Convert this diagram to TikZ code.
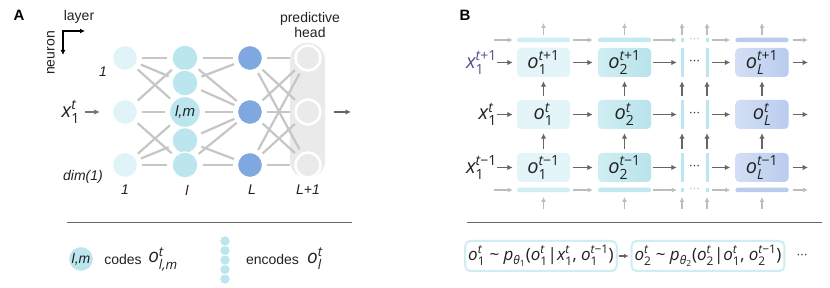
\documentclass[tikz,border=0pt]{standalone}
\usepackage{fontspec}
\setmainfont{Liberation Sans}
\newfontfamily\osf{Open Sans}
\newfontfamily\dvs{DejaVu Sans}
\usepackage{amsmath}
\usetikzlibrary{arrows.meta}
\pgfdeclarelayer{bgA}\pgfdeclarelayer{bgB}
\pgfsetlayers{bgA,bgB,main}
\newcommand\mi[1]{\text{\itshape #1}}
\newcommand\mr[1]{\text{#1}}
\definecolor{cA}{HTML}{DFF3F8}
\definecolor{cB}{HTML}{BCE6EE}
\definecolor{cC}{HTML}{7FA7E0}
\definecolor{cHead}{HTML}{EAEAEA}
\definecolor{cLine}{HTML}{C6C6C6}
\definecolor{cDark}{HTML}{666666}
\definecolor{cLight}{HTML}{BDBDBD}
\definecolor{cPur}{HTML}{5E4B8B}
\definecolor{cTxt}{HTML}{222222}
\definecolor{bxA}{HTML}{E4F5F9}
\definecolor{bxBl}{HTML}{CFEEF3}
\definecolor{bxBr}{HTML}{B9E3EB}
\definecolor{bxLl}{HTML}{D3DFF5}
\definecolor{bxLr}{HTML}{B9CCEF}
\definecolor{stA}{HTML}{CFEFF5}
\definecolor{stB}{HTML}{C2E8F0}
\definecolor{stL}{HTML}{BACCEE}
\definecolor{cBar}{HTML}{BDE7F0}
\definecolor{cFrame}{HTML}{CFEEF4}
\tikzset{
  neu/.style={circle, inner sep=0pt, draw=white, line width=1.2pt},
  conn/.style={draw=cLine, line width=2.2pt, shorten >=4pt, shorten <=4pt},
  darr/.style={draw=cDark, line width=1.6pt, -{Latex[length=5.5pt,width=5.5pt]}},
  larr/.style={draw=cLight, line width=1.4pt, -{Latex[length=5pt,width=5pt]}},
  cell/.style={rounded corners=4pt, minimum width=53pt, minimum height=29pt, inner sep=0pt, font=\osf\fontsize{20}{22}\selectfont, text=cTxt},
  strip/.style={rounded corners=2pt, minimum width=53pt, minimum height=4.5pt, inner sep=0pt},
  vbar/.style={minimum width=3pt, minimum height=29pt, inner sep=0pt, fill=cBar},
  sq/.style={minimum width=3pt, minimum height=4.5pt, inner sep=0pt, fill=cBar},
  wordA/.style={font=\fontsize{14}{16}\selectfont, text=cTxt, inner sep=0pt},
  itA/.style={font=\itshape\fontsize{14}{16}\selectfont, text=cTxt, inner sep=0pt},
  varB/.style={font=\osf\fontsize{20}{22}\selectfont, text=cTxt, inner sep=0pt},
  frm/.style={draw=cFrame, line width=2pt, rounded corners=5pt, minimum height=30pt, inner xsep=3pt, font=\osf\fontsize{17}{19}\selectfont, text=cTxt},
  dotsdark/.style={font=\dvs\fontsize{11}{12}\selectfont, text=cTxt, inner sep=0pt},
  dotslight/.style={font=\dvs\fontsize{11}{12}\selectfont, text=cLight, inner sep=0pt}
}
\begin{document}
\begin{tikzpicture}[x=1pt, y=-1pt]
\useasboundingbox (0,0) rectangle (830,288);
\begin{pgfonlayer}{bgA}
\fill[white] (0,0) rectangle (830,288);
\end{pgfonlayer}

% ================= Panel A =================
\node[font=\bfseries\fontsize{15}{15}\selectfont, text=black] (lblA) at (19,15) {A};
\node[wordA] (layer) at (79,17) {layer};
\node[wordA, rotate=90] (neuron) at (51,53) {neuron};
\coordinate (ax0) at (63,31);
\coordinate (axr) at (85,31);
\coordinate (axd) at (63,55);
\draw[line width=1.3pt, {Latex[length=5pt,width=5pt]}-{Latex[length=5pt,width=5pt]}] (axd) -- (ax0) -- (axr);

% head background
\begin{pgfonlayer}{bgA}
\node[fill=cHead, rounded corners=17pt, minimum width=35pt, minimum height=135pt, inner sep=0pt] (head) at (307.5,110.5) {};
\end{pgfonlayer}
\node[wordA, align=center] (pred) at (310,25) {predictive\\[-1pt]head};

% neurons
\node[neu, fill=cA, minimum size=25pt] (a1) at (125,58) {};
\node[neu, fill=cA, minimum size=25pt] (a2) at (125,112) {};
\node[neu, fill=cA, minimum size=25pt] (a3) at (125,165) {};

\node[neu, fill=cB, minimum size=26pt] (b1) at (185,58) {};
\node[neu, fill=cB, minimum size=26pt] (b2) at (185,83) {};
\node[neu, fill=cB, minimum size=31pt, font=\itshape\fontsize{15}{15}\selectfont, text=cTxt] (b3) at (185,112) {l,m};
\node[neu, fill=cB, minimum size=26pt] (b4) at (185,140.5) {};
\node[neu, fill=cB, minimum size=26pt] (b5) at (185,165) {};

\node[neu, fill=cC, minimum size=25pt] (c1) at (250,58) {};
\node[neu, fill=cC, minimum size=25pt] (c2) at (250,112) {};
\node[neu, fill=cC, minimum size=25pt] (c3) at (250,165) {};

\node[circle, inner sep=0pt, fill=cHead, draw=white, line width=2.5pt, minimum size=25pt] (d1) at (308,58) {};
\node[circle, inner sep=0pt, fill=cHead, draw=white, line width=2.5pt, minimum size=25pt] (d2) at (308,112) {};
\node[circle, inner sep=0pt, fill=cHead, draw=white, line width=2.5pt, minimum size=25pt] (d3) at (308,165) {};

% connections
\begin{pgfonlayer}{bgB}
\foreach \s/\t in {a1/b1,a1/b2,a1/b3,a2/b1,a2/b3,a2/b5,a3/b3,a3/b4,a3/b5,
                   b1/c1,b1/c2,b2/c1,b2/c2,b3/c2,b4/c2,b4/c3,b5/c2,b5/c3,
                   c1/d1,c1/d2,c1/d3,c2/d1,c2/d2,c2/d3,c3/d1,c3/d2,c3/d3}
  \draw[conn] (\s) -- (\t);
\end{pgfonlayer}

% labels
\node[itA] (l1a) at (103,72) {1};
\node[itA] (ldim) at (83,177) {dim(1)};
\node[itA] (lb1) at (125,190) {1};
\node[itA] (lbl) at (187,190) {l};
\node[itA] (lbL) at (252,190) {L};
\node[itA] (lbL1) at (308,190) {L+1};

\node[varB, anchor=east] (xA) at (80,112) {$\mi{x}^{\mi{t}}_{\mr{1}}$};
\draw[darr, draw=cDark!90, line width=1.3pt, shorten <=5pt, shorten >=12pt] (xA) -- (a2);
\coordinate (outA) at (351,112);
\draw[darr, line width=1.3pt, shorten <=12pt] (d2) -- (outA);

% legend A
\coordinate (sepA0) at (67,223);
\coordinate (sepA1) at (352,223);
\draw[cDark, line width=1pt] (sepA0) -- (sepA1);
\node[neu, fill=cB, minimum size=25pt, font=\itshape\fontsize{14}{14}\selectfont, text=cTxt] (lg1) at (81,259) {l,m};
\node[wordA] (lgcodes) at (123,259) {codes};
\node[varB, font=\osf\fontsize{19}{21}\selectfont] (lgo1) at (163,259) {$\mi{o}^{\mi{t}}_{\mi{l,m}}$};
\foreach \yy/\nm in {279/s5,269.5/s4,260/s3,250.5/s2,241/s1}
  \node[neu, fill=cB, minimum size=10.5pt, line width=0.8pt] (\nm) at (225,\yy) {};
\node[wordA] (lgenc) at (272.5,259) {encodes};
\node[varB, font=\osf\fontsize{19}{21}\selectfont] (lgo2) at (315,259) {$\mi{o}^{\mi{t}}_{\mi{l}}$};

% ================= Panel B =================
\node[font=\bfseries\fontsize{15}{15}\selectfont, text=black] (lblB) at (465,15) {B};

% row labels
\node[varB, anchor=east, text=cPur] (x1) at (497,62.5) {$\mi{x}^{\mi{t}\mr{+1}}_{\mr{1}}$};
\node[varB, anchor=east] (x2) at (497,114.5) {$\mi{x}^{\mi{t}}_{\mr{1}}$};
\node[varB, anchor=east] (x3) at (497,167.5) {$\mi{x}^{\mi{t}\mr{−1}}_{\mr{1}}$};

% cells
\foreach \r/\yy/\sup in {1/62.5/{\mi{t}\mr{+1}}, 2/114.5/{\mi{t}}, 3/167.5/{\mi{t}\mr{−1}}}{
  \node[cell, fill=bxA] (p1r\r) at (543.5,\yy) {$\mi{o}^{\sup}_{\mr{1}}$};
  \node[cell, left color=bxBl, right color=bxBr] (p2r\r) at (624.5,\yy) {$\mi{o}^{\sup}_{\mr{2}}$};
  \node[vbar] (q1r\r) at (682,\yy) {};
  \node[vbar] (q2r\r) at (707,\yy) {};
  \node[dotsdark] (dd\r) at (694.5,\yy) {⋯};
  \node[cell, left color=bxLl, right color=bxLr] (pLr\r) at (762,\yy) {$\mi{o}^{\sup}_{\mi{L}}$};
  \coordinate (out\r) at (808,\yy);
}
\foreach \r in {1,2,3}{
  \draw[darr, shorten >=4pt] (x\r.east) -- (p1r\r.west);
  \draw[darr, shorten <=3pt, shorten >=5pt] (p1r\r) -- (p2r\r);
  \draw[darr, shorten <=2pt, shorten >=3.5pt] (p2r\r) -- (q1r\r);
  \draw[darr, shorten <=3.5pt, shorten >=5pt] (q2r\r) -- (pLr\r);
  \draw[darr, shorten <=4pt] (pLr\r) -- (out\r);
}
\foreach \c in {p1,p2,q1,q2,pL}{
  \draw[darr, shorten <=4pt, shorten >=4pt] (\c r3) -- (\c r2);
  \draw[darr, shorten <=4pt, shorten >=4pt] (\c r2) -- (\c r1);
}

% strips
\foreach \s/\yy/\ua/\ub in {t/40/35/23, b/190/209/197}{
  \node[strip, fill=stA] (s1\s) at (543.5,\yy) {};
  \node[strip, fill=stB] (s2\s) at (624.5,\yy) {};
  \node[sq] (k1\s) at (682,\yy) {};
  \node[sq] (k2\s) at (707,\yy) {};
  \node[dotslight] (dl\s) at (694.5,\yy) {⋯};
  \node[strip, fill=stL] (sL\s) at (762,\yy) {};
  \coordinate (in\s) at (494,\yy);
  \coordinate (ot\s) at (808,\yy);
  \draw[larr, shorten >=4pt] (in\s) -- (s1\s);
  \draw[larr, shorten <=3pt, shorten >=5pt] (s1\s) -- (s2\s);
  \draw[larr, shorten <=2pt, shorten >=3.5pt] (s2\s) -- (k1\s);
  \draw[larr, shorten <=3.5pt, shorten >=5pt] (k2\s) -- (sL\s);
  \draw[larr, shorten <=4pt] (sL\s) -- (ot\s);
  \foreach \xx/\nm in {543.5/v1, 624.5/v2, 682/v3, 707/v4, 762/v5}{
    \coordinate (\nm a\s) at (\xx,\ua);
    \coordinate (\nm b\s) at (\xx,\ub);
    \draw[larr] (\nm a\s) -- (\nm b\s);
  }
}

% separator and formulas
\coordinate (sepB0) at (467,223);
\coordinate (sepB1) at (822,223);
\draw[cDark, line width=1pt] (sepB0) -- (sepB1);
\node[frm] (f1) at (541,256) {$\mi{o}^{\mi{t}}_{\mr{1}}\mr{ \textasciitilde{} }\mi{p}_{\mi{θ}_{\mr{1}}}\mr{(}\mi{o}^{\mi{t}}_{\mr{1}}\mr{|}\mi{x}^{\mi{t}}_{\mr{1}}\mr{, }\mi{o}^{\mi{t}\mr{−1}}_{\mr{1}}\mr{)}$};
\node[frm] (f2) at (708,256) {$\mi{o}^{\mi{t}}_{\mr{2}}\mr{ \textasciitilde{} }\mi{p}_{\mi{θ}_{\mr{2}}}\mr{(}\mi{o}^{\mi{t}}_{\mr{2}}\mr{|}\mi{o}^{\mi{t}}_{\mr{1}}\mr{, }\mi{o}^{\mi{t}\mr{−1}}_{\mr{2}}\mr{)}$};
\draw[darr, line width=1.3pt, -{Latex[length=4.5pt,width=4.5pt]}, shorten <=1pt, shorten >=2pt] (f1) -- (f2);
\node[dotsdark] (fdots) at (802,256) {⋯};
\end{tikzpicture}
\end{document}
